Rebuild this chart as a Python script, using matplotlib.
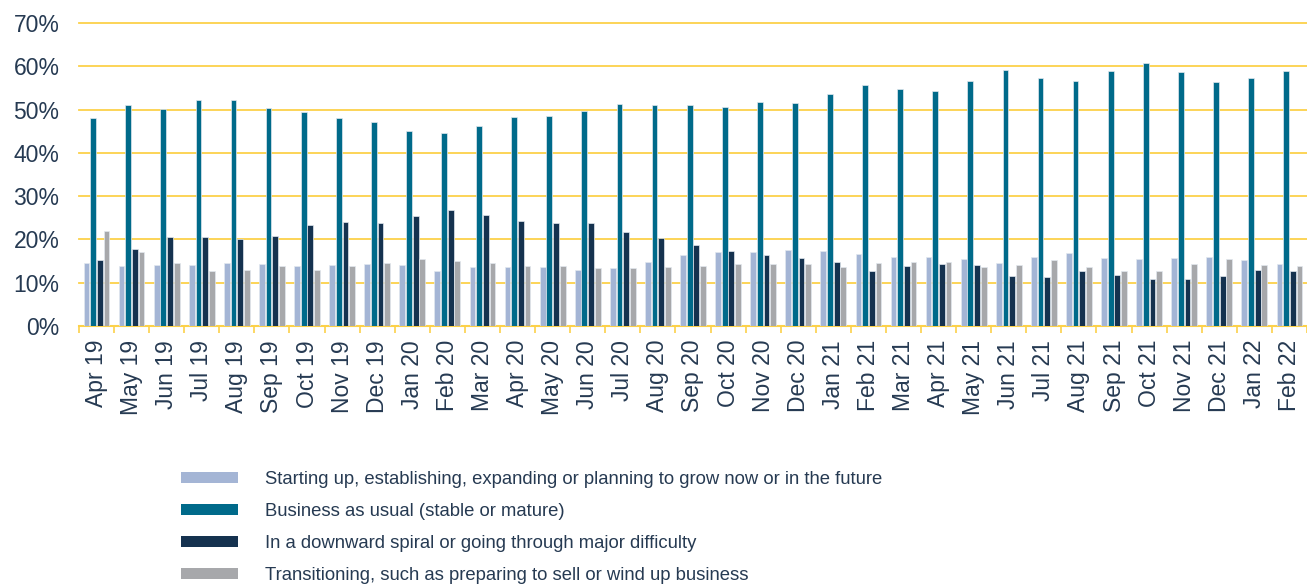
import matplotlib.pyplot as plt
import numpy as np
from matplotlib.patches import Patch

plt.rcParams['font.family'] = ['Liberation Sans', 'DejaVu Sans']

# months on the x axis
months = ['Apr 19', 'May 19', 'Jun 19', 'Jul 19', 'Aug 19', 'Sep 19', 'Oct 19', 'Nov 19', 'Dec 19',
          'Jan 20', 'Feb 20', 'Mar 20', 'Apr 20', 'May 20', 'Jun 20', 'Jul 20', 'Aug 20', 'Sep 20',
          'Oct 20', 'Nov 20', 'Dec 20', 'Jan 21', 'Feb 21', 'Mar 21', 'Apr 21', 'May 21', 'Jun 21',
          'Jul 21', 'Aug 21', 'Sep 21', 'Oct 21', 'Nov 21', 'Dec 21', 'Jan 22', 'Feb 22']

# percentages
starting_up = [14.6, 13.9, 14.2, 14.2, 14.6, 14.4, 13.9, 14.2, 14.4, 14.2, 12.8, 13.6, 13.6, 13.6,
               13.0, 13.3, 14.9, 16.3, 17.1, 17.1, 17.6, 17.4, 16.6, 16.0, 16.0, 15.5, 14.6, 16.0,
               16.9, 15.8, 15.5, 15.8, 16.0, 15.2, 14.4]
business_as_usual = [48.0, 51.0, 50.2, 52.1, 52.1, 50.4, 49.4, 48.0, 47.2, 45.0, 44.7, 46.1, 48.3,
                     48.6, 49.7, 51.3, 51.0, 51.0, 50.7, 51.8, 51.5, 53.7, 55.6, 54.8, 54.3, 56.7,
                     59.2, 57.3, 56.7, 58.9, 60.8, 58.7, 56.4, 57.3, 58.9]
downward = [15.2, 17.7, 20.6, 20.6, 20.2, 20.9, 23.4, 24.0, 23.7, 25.3, 26.9, 25.6, 24.2, 23.9,
            23.9, 21.8, 20.4, 18.8, 17.4, 16.3, 15.8, 14.9, 12.8, 13.9, 14.4, 14.1, 11.6, 11.4,
            12.8, 11.9, 10.8, 10.8, 11.6, 13.0, 12.8]
transitioning = [21.9, 17.1, 14.6, 12.8, 13.0, 13.9, 13.0, 13.9, 14.6, 15.5, 15.1, 14.6, 13.9, 13.9,
                 13.3, 13.3, 13.6, 13.9, 14.4, 14.4, 14.4, 13.6, 14.6, 14.9, 14.9, 13.6, 14.1, 15.2,
                 13.6, 12.8, 12.8, 14.4, 15.5, 14.1, 13.9]

labels = ['Starting up, establishing, expanding or planning to grow now or in the future',
          'Business as usual (stable or mature)',
          'In a downward spiral or going through major difficulty',
          'Transitioning, such as preparing to sell or wind up business']
colors = ['#a4b5d5', '#006a8a', '#15324f', '#a7a8ab']

text_col = '#263a52'
gold = '#fcd14a'

fig = plt.figure(figsize=(13.07, 5.85), dpi=100)
ax = fig.add_axes([0.0604, 0.4427, 0.9396, 0.518])

x = np.arange(len(months))
step = 0.19
width = 0.165
series = [starting_up, business_as_usual, downward, transitioning]
for i, vals in enumerate(series):
    ax.bar(x + (i - 1.5) * step, vals, width=width, color=colors[i],
           edgecolor='#e2e8ef', linewidth=0.5, zorder=3)

ax.set_xlim(-0.5, len(months) - 0.5)
ax.set_ylim(0, 70)
ax.set_yticks(range(0, 71, 10))
ax.set_yticklabels([f'{v}%' for v in range(0, 71, 10)], fontsize=16.5, color=text_col)
ax.yaxis.grid(True, color=gold, linewidth=1.3, zorder=0, clip_on=False)
ax.tick_params(axis='y', length=0, pad=14)

ax.set_xticks(x)
ax.set_xticklabels(months, rotation=90, fontsize=16.5, color=text_col)
ax.set_xticks(np.arange(-0.5, len(months), 1), minor=True)
ax.tick_params(axis='x', which='major', length=0, pad=10)
ax.tick_params(axis='x', which='minor', length=5, color=gold, width=1.2)

for s in ['top', 'right', 'left']:
    ax.spines[s].set_visible(False)
ax.spines['bottom'].set_color(gold)
ax.spines['bottom'].set_linewidth(1.5)

handles = [Patch(facecolor=c, edgecolor='none') for c in colors]
fig.legend(handles, labels, loc='upper left', bbox_to_anchor=(0.1325, 0.207),
           frameon=False, fontsize=13.3, handlelength=3.1, handleheight=0.5,
           handletextpad=1.45, labelspacing=0.81, labelcolor=text_col, borderaxespad=0)

fig.savefig('out.png', dpi=100)
